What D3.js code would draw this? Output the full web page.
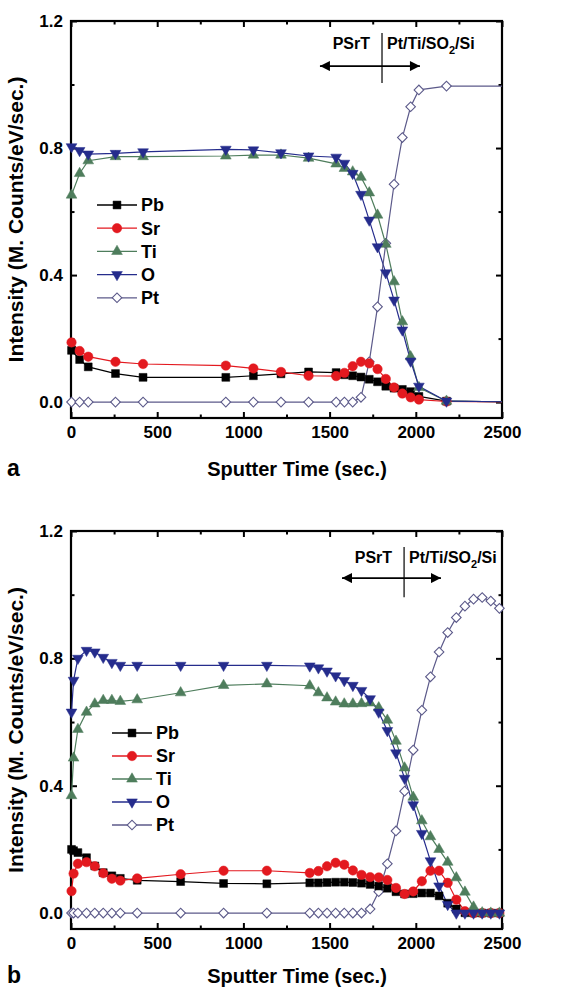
<!DOCTYPE html>
<html>
<head>
<meta charset="utf-8">
<script src="https://cdn.jsdelivr.net/npm/d3@7"></script>
<style>
  body { margin: 0; background: #fff; }
  svg { display: block; }
  text { font-family: "Liberation Sans", Arial, sans-serif; font-weight: bold; fill: #000; }
</style>
</head>
<body>
<div id="chart"></div>
<script>
// ---- data ----
const seriesNames = ["Pb", "Sr", "Ti", "O", "Pt"];

// panel a (last time point lies past the axis end, line is clipped there)
const timeA = [3, 50, 100, 258, 418, 898, 1058, 1218, 1378, 1538, 1586, 1634, 1682, 1730, 1778, 1826, 1874, 1922, 1970, 2018, 2178, 2700];
const pbA = [0.163, 0.134, 0.111, 0.090, 0.078, 0.078, 0.083, 0.089, 0.095, 0.093, 0.086, 0.083, 0.079, 0.072, 0.064, 0.050, 0.044, 0.040, 0.033, 0.018, 0.003, 0];
const srA = [0.188, 0.161, 0.143, 0.127, 0.120, 0.115, 0.106, 0.095, 0.083, 0.082, 0.092, 0.113, 0.127, 0.122, 0.104, 0.073, 0.046, 0.027, 0.015, 0.008, 0.002, 0];
const tiA = [0.652, 0.720, 0.760, 0.773, 0.773, 0.775, 0.778, 0.778, 0.768, 0.750, 0.736, 0.725, 0.708, 0.659, 0.589, 0.497, 0.379, 0.253, 0.143, 0.046, 0.003, 0];
const oA = [0.804, 0.792, 0.781, 0.783, 0.788, 0.796, 0.794, 0.785, 0.775, 0.771, 0.752, 0.720, 0.654, 0.573, 0.489, 0.407, 0.321, 0.227, 0.129, 0.050, 0.003, 0];
const ptA = [0, 0, 0, 0, 0, 0, 0, 0, 0, 0, 0, 0, 0.015, 0.127, 0.300, 0.500, 0.686, 0.833, 0.930, 0.983, 0.995, 0.995];

// panel b
const timeB = [3, 15, 40, 90, 138, 187, 237, 286, 384, 636, 885, 1136, 1385, 1435, 1485, 1535, 1585, 1635, 1685, 1735, 1785, 1835, 1885, 1935, 1985, 2035, 2085, 2135, 2185, 2235, 2285, 2335, 2385, 2435, 2485];
const pbB = [0.200, 0.196, 0.190, 0.174, 0.148, 0.127, 0.117, 0.109, 0.103, 0.099, 0.093, 0.092, 0.095, 0.095, 0.096, 0.097, 0.097, 0.096, 0.094, 0.090, 0.085, 0.078, 0.067, 0.060, 0.061, 0.063, 0.063, 0.054, 0.031, 0.013, 0.001, 0, 0, 0, 0];
const srB = [0.069, 0.124, 0.155, 0.160, 0.147, 0.125, 0.108, 0.102, 0.109, 0.122, 0.133, 0.133, 0.126, 0.132, 0.147, 0.158, 0.152, 0.134, 0.120, 0.113, 0.112, 0.104, 0.079, 0.060, 0.068, 0.100, 0.133, 0.133, 0.095, 0.042, 0.006, 0, 0, 0, 0];
const tiB = [0.369, 0.487, 0.577, 0.631, 0.657, 0.668, 0.668, 0.665, 0.670, 0.692, 0.715, 0.720, 0.714, 0.692, 0.676, 0.663, 0.657, 0.657, 0.658, 0.660, 0.645, 0.606, 0.540, 0.456, 0.364, 0.290, 0.240, 0.200, 0.160, 0.111, 0.066, 0.019, 0.001, 0, 0];
const oB = [0.631, 0.731, 0.800, 0.825, 0.820, 0.803, 0.787, 0.778, 0.778, 0.778, 0.778, 0.778, 0.776, 0.770, 0.760, 0.745, 0.730, 0.715, 0.699, 0.673, 0.631, 0.573, 0.503, 0.423, 0.340, 0.250, 0.164, 0.085, 0.027, 0, 0, 0, 0, 0, 0];
const ptB = [0, 0, 0, 0, 0, 0, 0, 0, 0, 0, 0, 0, 0, 0, 0, 0, 0, 0, 0, 0.013, 0.067, 0.155, 0.258, 0.383, 0.512, 0.637, 0.742, 0.820, 0.881, 0.928, 0.964, 0.986, 0.991, 0.980, 0.957];

// axis ticks
const xMajor = [0, 500, 1000, 1500, 2000, 2500];
const xMinor = [250, 750, 1250, 1750, 2250];
const yMajor = [0.0, 0.4, 0.8, 1.2];
const yMinor = [0.2, 0.6, 1.0];

// ---- drawing ----
const width = 573, height = 988;
const svg = d3.select("#chart").append("svg")
    .attr("width", width)
    .attr("height", height);

const color = { Pb: "#000000", Sr: "#e3191f", Ti: "#4e7d5c", O: "#252c8c", Pt: "#5c5a8a" };
const fill = { Pb: "#000000", Sr: "#e3191f", Ti: "#4e7d5c", O: "#252c8c", Pt: "#ffffff" };
const symbolPath = {
    Pb: d3.symbol(d3.symbolSquare, 62)(),
    Sr: d3.symbol(d3.symbolCircle, 70)(),
    Ti: d3.symbol(d3.symbolTriangle, 50)(),
    O: d3.symbol(d3.symbolTriangle, 50)(),
    Pt: d3.symbol(d3.symbolSquare, 46)()
};
const symbolRot = { Pb: 0, Sr: 0, Ti: 0, O: 180, Pt: 45 };

const panels = [
    {
        id: "a", top: 21, bottom: 418, time: timeA, titleY: 476,
        values: { Pb: pbA, Sr: srA, Ti: tiA, O: oA, Pt: ptA },
        legend: { x: 97, y: 205, dy: 23.2 },
        split: 1804, splitY: [1.005, 1.162], arrow: [1444, 2024], arrowY: 1.058, labelY: 1.112
    },
    {
        id: "b", top: 531, bottom: 929, time: timeB, titleY: 983,
        values: { Pb: pbB, Sr: srB, Ti: tiB, O: oB, Pt: ptB },
        legend: { x: 112, y: 733, dy: 23 },
        split: 1932, splitY: [0.992, 1.15], arrow: [1572, 2146], arrowY: 1.052, labelY: 1.100
    }
];

const marginLeft = 71, marginRight = 71 + 431;

// arrow heads
svg.append("defs").append("marker")
    .attr("id", "head")
    .attr("viewBox", "0 0 10 10")
    .attr("refX", 10).attr("refY", 5)
    .attr("markerWidth", 17).attr("markerHeight", 10)
    .attr("markerUnits", "userSpaceOnUse")
    .attr("orient", "auto")
    .append("path").attr("d", "M0,0L10,5L0,10Z").attr("fill", "#000");

panels.forEach((p, pi) => {
    const x = d3.scaleLinear().domain([0, 2500]).range([marginLeft, marginRight]);
    const y = d3.scaleLinear().domain([-0.05, 1.2]).range([p.bottom, p.top]);
    const g = svg.append("g");

    g.append("clipPath").attr("id", "clip" + pi)
        .append("rect")
        .attr("x", marginLeft).attr("y", p.top)
        .attr("width", marginRight - marginLeft).attr("height", p.bottom - p.top);

    // ticks, inward on all four sides
    const axes = [
        [d3.axisBottom(x).tickValues(xMajor).tickSize(-6).tickPadding(8).tickFormat(d3.format("d")), `translate(0,${p.bottom})`],
        [d3.axisBottom(x).tickValues(xMinor).tickSize(-3.5).tickFormat(""), `translate(0,${p.bottom})`],
        [d3.axisTop(x).tickValues(xMajor).tickSize(-6).tickFormat(""), `translate(0,${p.top})`],
        [d3.axisTop(x).tickValues(xMinor).tickSize(-3.5).tickFormat(""), `translate(0,${p.top})`],
        [d3.axisLeft(y).tickValues(yMajor).tickSize(-6).tickPadding(8).tickFormat(d3.format(".1f")), `translate(${marginLeft},0)`],
        [d3.axisLeft(y).tickValues(yMinor).tickSize(-3.5).tickFormat(""), `translate(${marginLeft},0)`],
        [d3.axisRight(y).tickValues(yMajor).tickSize(-6).tickFormat(""), `translate(${marginRight},0)`],
        [d3.axisRight(y).tickValues(yMinor).tickSize(-3.5).tickFormat(""), `translate(${marginRight},0)`]
    ];
    axes.forEach(([ax, tr]) => {
        const a = g.append("g").attr("transform", tr).call(ax.tickSizeOuter(0));
        a.select(".domain").remove();
        a.selectAll("line").attr("stroke", "#000").attr("stroke-width", 2);
        a.selectAll("text")
            .attr("font-size", 17)
            .attr("font-family", "Liberation Sans, Arial, sans-serif")
            .attr("font-weight", "bold")
            .attr("fill", "#000");
    });

    g.append("rect")
        .attr("x", marginLeft).attr("y", p.top)
        .attr("width", marginRight - marginLeft).attr("height", p.bottom - p.top)
        .attr("fill", "none").attr("stroke", "#000").attr("stroke-width", 2.2);

    // series
    const line = d3.line().x(d => x(d[0])).y(d => y(d[1]));
    const plot = g.append("g").attr("clip-path", `url(#clip${pi})`);
    seriesNames.forEach(name => {
        const pts = p.time.map((t, i) => [t, p.values[name][i]]);
        plot.append("path")
            .datum(pts)
            .attr("fill", "none")
            .attr("stroke", color[name])
            .attr("stroke-width", 1.2)
            .attr("d", line);
    });
    ["Pt", "Pb", "Sr", "Ti", "O"].forEach(name => {
        const pts = p.time.map((t, i) => [t, p.values[name][i]]).filter(d => d[0] <= 2500);
        g.append("g").selectAll("path")
            .data(pts)
            .join("path")
            .attr("d", symbolPath[name])
            .attr("transform", d => `translate(${x(d[0])},${y(d[1])}) rotate(${symbolRot[name]})`)
            .attr("fill", fill[name])
            .attr("stroke", name === "Pt" ? color.Pt : fill[name])
            .attr("stroke-width", name === "Pt" ? 1.1 : 0.5);
    });

    // legend
    const leg = g.append("g");
    seriesNames.forEach((name, i) => {
        const ly = p.legend.y + i * p.legend.dy;
        leg.append("line")
            .attr("x1", p.legend.x).attr("x2", p.legend.x + 40)
            .attr("y1", ly).attr("y2", ly)
            .attr("stroke", color[name]).attr("stroke-width", 1.3);
        leg.append("path")
            .attr("d", symbolPath[name])
            .attr("transform", `translate(${p.legend.x + 20},${ly}) rotate(${symbolRot[name]})`)
            .attr("fill", fill[name])
            .attr("stroke", name === "Pt" ? color.Pt : fill[name])
            .attr("stroke-width", name === "Pt" ? 1.1 : 0.5);
        leg.append("text")
            .attr("x", p.legend.x + 44).attr("y", ly)
            .attr("dy", "0.36em")
            .attr("font-size", 18)
            .text(name);
    });

    // PSrT | Pt/Ti/SO2/Si boundary marker
    g.append("line")
        .attr("x1", x(p.split)).attr("x2", x(p.split))
        .attr("y1", y(p.splitY[0])).attr("y2", y(p.splitY[1]))
        .attr("stroke", "#000").attr("stroke-width", 1.2);
    g.append("line")
        .attr("x1", x(p.split)).attr("x2", x(p.arrow[0]))
        .attr("y1", y(p.arrowY)).attr("y2", y(p.arrowY))
        .attr("stroke", "#000").attr("stroke-width", 1.6)
        .attr("marker-end", "url(#head)");
    g.append("line")
        .attr("x1", x(p.split)).attr("x2", x(p.arrow[1]))
        .attr("y1", y(p.arrowY)).attr("y2", y(p.arrowY))
        .attr("stroke", "#000").attr("stroke-width", 1.6)
        .attr("marker-end", "url(#head)");
    g.append("text")
        .attr("x", x(p.split) - 12).attr("y", y(p.labelY))
        .attr("text-anchor", "end")
        .attr("font-size", 16)
        .text("PSrT");
    const lab = g.append("text")
        .attr("x", x(p.split) + 5).attr("y", y(p.labelY))
        .attr("font-size", 16);
    lab.append("tspan").text("Pt/Ti/SO");
    lab.append("tspan").attr("font-size", 11).attr("dy", 5).text("2");
    lab.append("tspan").attr("dy", -5).text("/Si");

    // axis titles
    g.append("text")
        .attr("x", 297).attr("y", p.titleY)
        .attr("text-anchor", "middle")
        .attr("font-size", 20)
        .text("Sputter Time (sec.)");
    g.append("text")
        .attr("transform", `translate(23,${(p.top + p.bottom) / 2}) rotate(-90)`)
        .attr("text-anchor", "middle")
        .attr("font-size", 21)
        .text("Intensity (M. Counts/eV/sec.)");
    g.append("text")
        .attr("x", 7).attr("y", p.titleY)
        .attr("font-family", "Liberation Serif, Times New Roman, serif")
        .attr("font-size", 23)
        .text(p.id);
});
</script>
</body>
</html>
